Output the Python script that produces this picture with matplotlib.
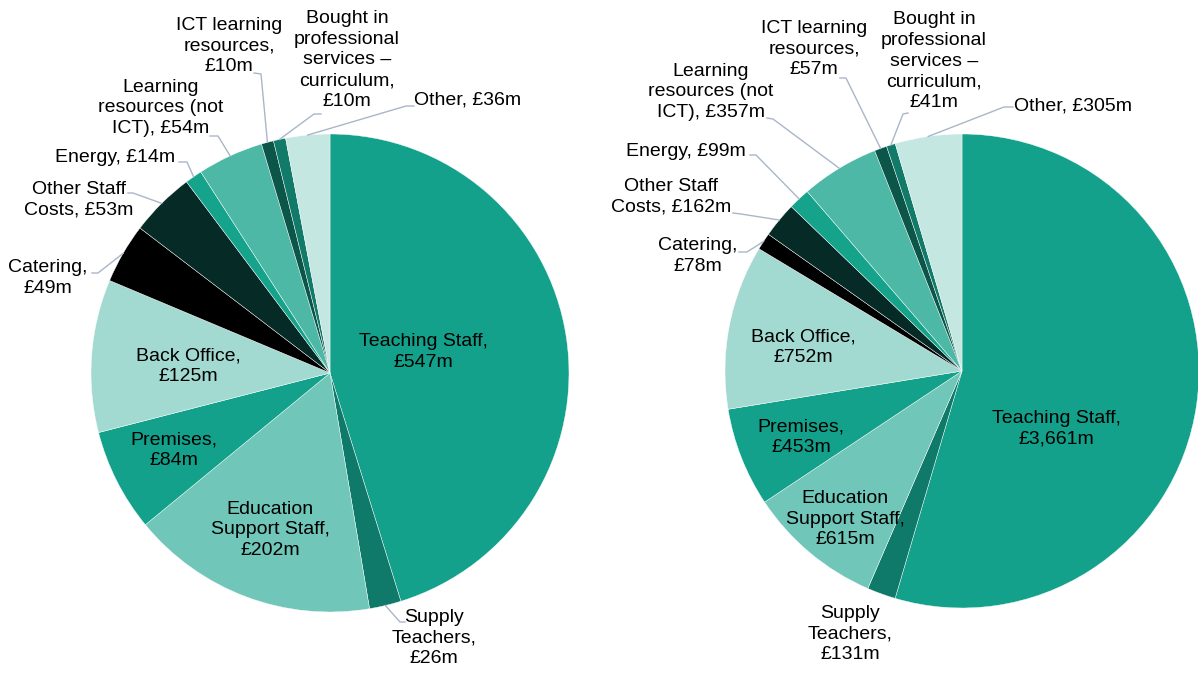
import numpy as np
import matplotlib.pyplot as plt

plt.rcParams['font.family'] = ['Liberation Sans', 'DejaVu Sans']

# размеры картинки в пикселях
W, H = 1198, 673

categories = ['Teaching Staff', 'Supply Teachers', 'Education Support Staff',
              'Premises', 'Back Office', 'Catering', 'Other Staff Costs',
              'Energy', 'Learning resources (not ICT)', 'ICT learning resources',
              'Bought in professional services – curriculum', 'Other']

# шаблоны подписей (переносы строк как на исходнике)
label_templates = ['Teaching Staff,\n£{}m', 'Supply\nTeachers,\n£{}m',
                   'Education\nSupport Staff,\n£{}m', 'Premises,\n£{}m',
                   'Back Office,\n£{}m', 'Catering,\n£{}m', 'Other Staff\nCosts, £{}m',
                   'Energy, £{}m', 'Learning\nresources (not\nICT), £{}m',
                   'ICT learning\nresources,\n£{}m',
                   'Bought in\nprofessional\nservices –\ncurriculum,\n£{}m',
                   'Other, £{}m']

left_values = [547, 26, 202, 84, 125, 49, 53, 14, 54, 10, 10, 36]
right_values = [3661, 131, 615, 453, 752, 78, 162, 99, 357, 57, 41, 305]

colors = ['#13A18B', '#0F7A69', '#70C6B8', '#13A18B', '#A2DAD1', '#000000',
          '#062A25', '#15A38C', '#4DB8A6', '#0C5549', '#117A69', '#C4E7E2']

# положение центров подписей (пиксели, y сверху)
left_text_pos = [(423, 352), (434, 638), (270, 530), (174, 450), (188, 366),
                 (48, 278), (79, 200), (115, 158), (161, 108), (229, 46),
                 (347, 60), (468, 100)]
right_text_pos = [(1056, 429), (850, 634), (845, 519), (801, 437), (803, 347),
                  (698, 256), (671, 197), (686, 152), (711, 92), (814, 49),
                  (934, 61), (1073, 106)]

# выноски: излом и конец у подписи
left_leaders = {1: [(400, 622), (405, 622)], 5: [(98, 273), (92, 273)],
                6: [(133, 193), (128, 193)], 7: [(187, 162), (179, 162)],
                8: [(218, 136), (210, 136)], 9: [(261, 74), (254, 73)],
                10: [(314, 114), (321, 114)], 11: [(406, 106), (414, 106)]}
right_leaders = {5: [(747, 252), (739, 252)], 6: [(741, 214), (733, 213)],
                 7: [(756, 155), (750, 155)], 8: [(773, 119), (767, 118)],
                 9: [(846, 78), (840, 78)], 10: [(903, 114), (908, 113)],
                 11: [(1004, 107), (1013, 107)]}

fig = plt.figure(figsize=(W / 100, H / 100), dpi=100)
ax = fig.add_axes([0, 0, 1, 1])


def draw_pie(values, center, radius, text_pos, leaders):
    cx, cy = center[0], H - center[1]
    wedges, _ = ax.pie(values, colors=colors, startangle=90, counterclock=False,
                       center=(cx, cy), radius=radius,
                       wedgeprops=dict(edgecolor='white', linewidth=0.3))
    for i, w in enumerate(wedges):
        txt = label_templates[i].format(f'{values[i]:,}')
        tx, ty = text_pos[i]
        ax.text(tx, H - ty, txt, ha='center', va='center', fontsize=14,
                linespacing=1.3, color='black')
        if i in leaders:
            ang = np.deg2rad((w.theta1 + w.theta2) / 2)
            pts = [(cx + radius * np.cos(ang), cy + radius * np.sin(ang))]
            pts += [(x, H - y) for x, y in leaders[i]]
            xs, ys = zip(*pts)
            ax.plot(xs, ys, color='#AAB6C8', lw=1)


draw_pie(left_values, (330, 373), 239, left_text_pos, left_leaders)
draw_pie(right_values, (962, 371), 237, right_text_pos, right_leaders)

ax.set_xlim(0, W)
ax.set_ylim(0, H)
ax.set_aspect('auto')
ax.axis('off')

plt.savefig('out.png', dpi=100)
